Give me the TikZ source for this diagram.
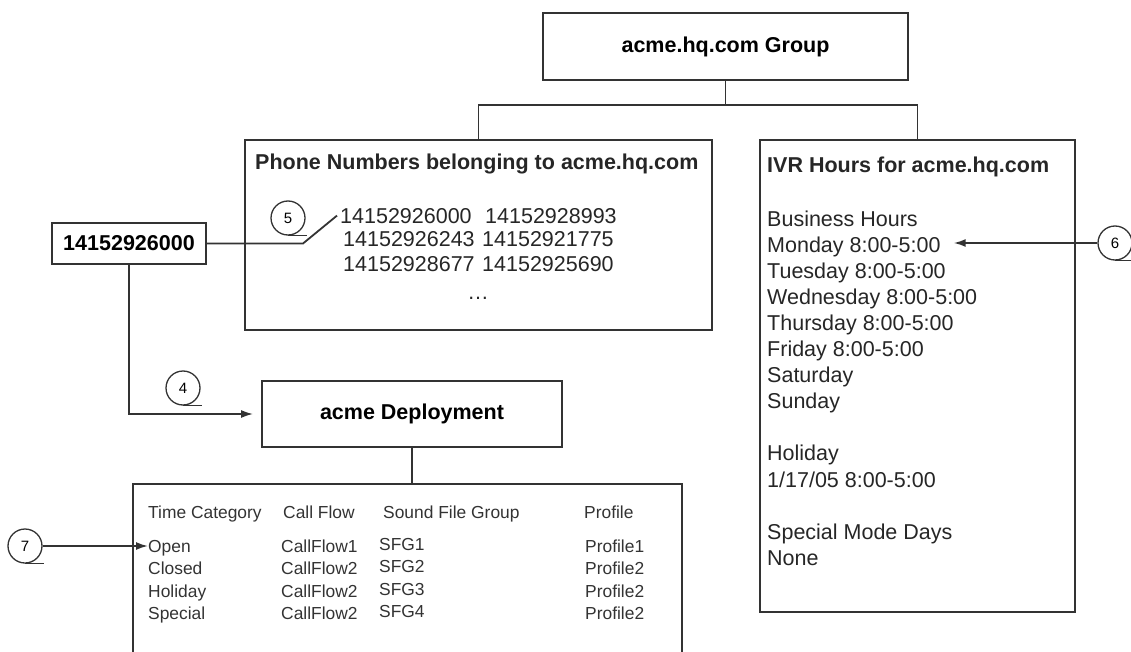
\documentclass[tikz,border=0pt]{standalone}
\usepackage{fontspec}
\setmainfont{Liberation Sans}
\usetikzlibrary{arrows.meta}

\begin{document}
\begin{tikzpicture}[x=1pt, y=-1pt,
        line/.style={line width=1.8pt, draw=black!80},
        box/.style={line, rectangle, inner sep=0pt, font=\fontsize{21.5}{26}\selectfont\bfseries},
        txt/.style={anchor=base west, inner sep=0pt, text=black!85, font=\fontsize{21.5}{26}\selectfont},
        tab/.style={anchor=base west, inner sep=0pt, text=black!80, font=\fontsize{17.4}{21}\selectfont},
        callout/.style={line, line width=1.3pt, circle, minimum size=34pt, inner sep=0pt, font=\fontsize{15}{18}\selectfont},
        arr/.style={line, -{Latex[length=12pt, width=8pt]}}]
        \useasboundingbox (0,0) rectangle (1131,652);
        \clip (0,0) rectangle (1131,652);

        % boxes
        \node[box, minimum width=365pt, minimum height=67pt] (group) at (725.5, 46.5) {acme.hq.com Group};
        \node[box, minimum width=467pt, minimum height=190pt] (phone) at (478.5, 235) {};
        \node[box, minimum width=315pt, minimum height=472pt] (ivr) at (917.5, 376) {};
        \node[box, minimum width=154pt, minimum height=41pt] (num) at (129, 243.5) {14152926000};
        \node[box, minimum width=300pt, minimum height=66pt] (dep) at (412, 414) {acme Deployment};
        \node[box, minimum width=549pt, minimum height=180pt] (tbl) at (407.5, 574) {};

        % phone numbers
        \node[txt, font=\fontsize{21.5}{26}\selectfont\bfseries] (phonetitle) at (255, 170) {Phone Numbers belonging to acme.hq.com};
        \node[txt] (n1) at (340, 223) {14152926000};
        \node[txt] (n2) at (485, 223) {14152928993};
        \node[txt] (n3) at (343, 247) {14152926243};
        \node[txt] (n4) at (482, 247) {14152921775};
        \node[txt] (n5) at (343, 271) {14152928677};
        \node[txt] (n6) at (482, 271) {14152925690};
        \node[txt, anchor=base] (ndots) at (478, 299) {\dots};

        % IVR hours
        \node[txt, font=\fontsize{21.5}{26}\selectfont\bfseries] (ivrtitle) at (767, 173) {IVR Hours for acme.hq.com};
        \node[txt] (bus) at (767, 226) {Business Hours};
        \node[txt] (mon) at (767, 252.1) {Monday 8:00-5:00};
        \node[txt] (tue) at (767, 278.2) {Tuesday 8:00-5:00};
        \node[txt] (wed) at (767, 304.3) {Wednesday 8:00-5:00};
        \node[txt] (thu) at (767, 330.4) {Thursday 8:00-5:00};
        \node[txt] (fri) at (767, 356.5) {Friday 8:00-5:00};
        \node[txt] (sat) at (767, 382.6) {Saturday};
        \node[txt] (sun) at (767, 408.7) {Sunday};
        \node[txt] (hol) at (767, 460.9) {Holiday};
        \node[txt] (holdate) at (767, 487) {1/17/05 8:00-5:00};
        \node[txt] (spec) at (767, 539.2) {Special Mode Days};
        \node[txt] (none) at (767, 565.3) {None};

        % deployment table
        \node[tab] (hcat) at (148, 518) {Time Category};
        \node[tab] (hflow) at (283, 518) {Call Flow};
        \node[tab] (hsfg) at (383, 518) {Sound File Group};
        \node[tab] (hprof) at (584, 518) {Profile};
        \node[tab] (open) at (148, 552) {Open};
        \node[tab] (closed) at (148, 574.5) {Closed};
        \node[tab] (holiday) at (148, 597) {Holiday};
        \node[tab] (special) at (148, 619.5) {Special};
        \node[tab] (flow1) at (281, 552) {CallFlow1};
        \node[tab] (flow2) at (281, 574.5) {CallFlow2};
        \node[tab] (flow3) at (281, 597) {CallFlow2};
        \node[tab] (flow4) at (281, 619.5) {CallFlow2};
        \node[tab] (sfg1) at (379, 550) {SFG1};
        \node[tab] (sfg2) at (379, 572.5) {SFG2};
        \node[tab] (sfg3) at (379, 595) {SFG3};
        \node[tab] (sfg4) at (379, 617.5) {SFG4};
        \node[tab] (prof1) at (585, 552) {Profile1};
        \node[tab] (prof2) at (585, 574.5) {Profile2};
        \node[tab] (prof3) at (585, 597) {Profile2};
        \node[tab] (prof4) at (585, 619.5) {Profile2};

        % callouts
        \node[callout] (c4) at (183, 388) {4};
        \node[callout] (c5) at (288, 218) {5};
        \node[callout] (c6) at (1115, 243) {6};
        \node[callout] (c7) at (25, 546) {7};
        \draw[line, line width=1.3pt] (c4.south) -- ++(19,0);
        \draw[line, line width=1.3pt] (c5.south) -- ++(19,0);
        \draw[line, line width=1.3pt] (c6.south) -- ++(19,0);
        \draw[line, line width=1.3pt] (c7.south) -- ++(19,0);

        % connectors
        \draw[line] (group.south) -- ++(0,24) coordinate (hub);
        \draw[line] (hub) -| (phone.north);
        \draw[line] (hub) -| (ivr.north);
        \coordinate (k5) at (303, 243.5);
        \draw[line] (num.east) -- (k5) -- ([xshift=-3pt]n1.west);
        \draw[arr, shorten >=8pt] (num.south) |- (dep.west);
        \draw[line] (dep.south) -- (dep.south |- tbl.north);
        \draw[arr] (c6.west) -- ([xshift=13pt]c6 -| mon.east);
        \draw[arr] (c7.east) -- (c7 -| open.west);
\end{tikzpicture}
\end{document}
